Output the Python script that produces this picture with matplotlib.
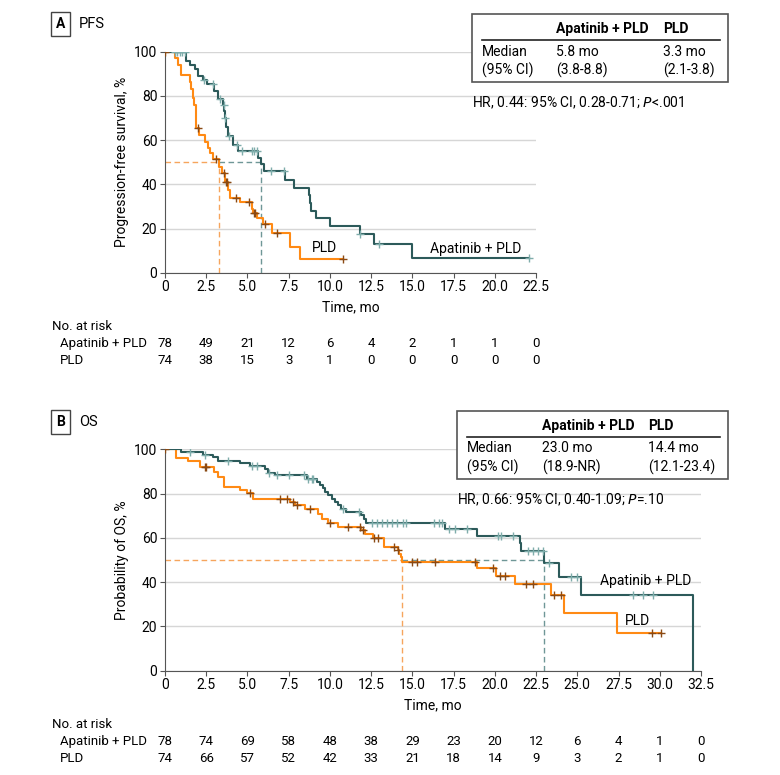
import numpy as np
import matplotlib
matplotlib.use("Agg")
import matplotlib.pyplot as plt
from matplotlib.patches import Rectangle
from matplotlib.lines import Line2D

plt.rcParams['font.family'] = ['Roboto', 'DejaVu Sans']
plt.rcParams['font.size'] = 9.5

TEAL = '#2c5a5a'
TEAL_CENS = '#7fadab'
ORANGE = '#ff8a14'
ORANGE_CENS = '#8a4a14'

# ---- Panel A: PFS ----
pfs_apa_t = [0, 1.3, 1.5, 1.8, 2.0, 2.3, 2.55, 3.0, 3.2, 3.5, 3.6, 3.65, 3.7, 3.8, 4.1, 4.4,
             5.65, 5.8, 6.0, 7.3, 7.85, 8.75, 8.8, 8.85, 9.15, 10.0, 11.8, 12.7, 15.0, 22.1]
pfs_apa_s = [100, 96, 94, 92, 89, 87, 85.5, 82, 78.5, 76, 73, 70, 66, 62, 58, 55,
             52, 49, 46, 42, 38.5, 35, 31.5, 28, 24.7, 21, 17.5, 13, 6.6, 6.6]
pfs_apa_cens = [0.6, 0.75, 0.9, 1.05, 1.2, 2.35, 2.9, 3.35, 3.55, 3.65, 3.9, 4.35, 4.65,
                5.25, 5.4, 5.55, 6.45, 7.2, 11.8, 13.0, 22.1]

pfs_pld_t = [0, 0.6, 0.8, 1.0, 1.5, 1.6, 1.7, 1.75, 1.85, 1.9, 2.05, 2.45, 2.6, 2.75, 2.9,
             3.3, 3.45, 3.65, 3.8, 3.95, 4.55, 5.25, 5.35, 5.55, 5.95, 6.5, 7.58, 8.19, 10.8]
pfs_pld_s = [100, 97, 94, 89.4, 86.4, 83, 79, 76, 71.4, 65.3, 62.3, 59.3, 56.5, 54, 51.4,
             48, 45, 41.2, 37.5, 33.7, 31.8, 29, 27.1, 24.6, 21.9, 18.1, 11.8, 6.1, 6.1]
pfs_pld_cens = [0, 2.0, 3.1, 3.55, 3.7, 3.75, 4.3, 5.1, 5.4, 5.45, 6.05, 6.8, 10.8]

pfs_median = {'apa': 5.8, 'pld': 3.3}
pfs_ticks = [0, 2.5, 5.0, 7.5, 10.0, 12.5, 15.0, 17.5, 20.0, 22.5]
pfs_risk_apa = [78, 49, 21, 12, 6, 4, 2, 1, 1, 0]
pfs_risk_pld = [74, 38, 15, 3, 1, 0, 0, 0, 0, 0]

# ---- Panel B: OS ----
os_apa_t = [0, 1.0, 2.3, 2.9, 3.2, 4.55, 5.15, 6.05, 6.25, 6.65, 8.6, 9.2, 9.4, 9.6, 9.7,
            9.9, 10.1, 10.3, 10.5, 10.7, 11.0, 11.9, 12.05, 12.2, 17.0, 18.9, 21.5, 21.6,
            23.0, 23.9, 25.2, 32.0]
os_apa_s = [100, 98.6, 97.4, 96.4, 94.8, 93.6, 92.6, 90.9, 89.5, 88.2, 86.8, 85.3, 83.8,
            82.3, 80.8, 79.2, 77.7, 76.2, 74.7, 73.2, 71.7, 70.2, 68.6, 66.6, 63.9, 60.8,
            57.5, 54.1, 48.5, 42.5, 34.0, 0]
os_apa_cens = [1.5, 2.45, 3.85, 5.25, 5.55, 6.3, 6.8, 7.5, 8.4, 8.7, 8.9, 9.0, 10.8, 11.75,
               12.55, 12.85, 13.15, 13.45, 13.75, 14.05, 14.45, 14.6, 16.3, 16.6, 16.8,
               17.2, 17.6, 18.3, 20.2, 20.4, 21.1, 22.0, 22.3, 22.6, 22.9, 23.3, 24.6,
               25.0, 28.4, 29.0, 29.6]

os_pld_t = [0, 0.65, 1.4, 2.1, 3.0, 3.2, 3.55, 4.55, 4.95, 5.35, 7.55, 7.9, 8.5, 9.3, 9.5,
            9.9, 10.5, 11.9, 12.1, 12.6, 13.3, 14.1, 14.2, 14.3, 14.4, 18.9, 20.1, 21.2,
            23.4, 24.2, 27.4, 30.1]
os_pld_s = [100, 96, 94.6, 92, 89.8, 87.5, 83, 81.5, 80.4, 77.7, 76.2, 74.7, 73.2, 70.9,
            68.6, 66.8, 65, 63.4, 61.6, 60, 55.9, 54.4, 52.9, 51.4, 49.2, 46.2, 42.8, 39,
            34.2, 25.9, 17.2, 17.2]
os_pld_cens = [0, 2.4, 2.5, 5.15, 7.0, 7.4, 7.75, 8.0, 8.8, 10.0, 11.1, 11.8, 12.0, 12.7,
               12.9, 13.9, 14.15, 15.0, 15.3, 16.4, 18.8, 19.9, 20.3, 20.6, 21.9, 22.3,
               23.6, 24.0, 29.5, 30.1]

os_median = {'apa': 23.0, 'pld': 14.4}
os_ticks = [0, 2.5, 5.0, 7.5, 10.0, 12.5, 15.0, 17.5, 20.0, 22.5, 25.0, 27.5, 30.0, 32.5]
os_risk_apa = [78, 74, 69, 58, 48, 38, 29, 23, 20, 12, 6, 4, 1, 0]
os_risk_pld = [74, 66, 57, 52, 42, 33, 21, 18, 14, 9, 3, 2, 1, 0]


def step_value(ts, ss, t):
    idx = np.searchsorted(ts, t, side='right') - 1
    return np.array(ss)[idx]


def km(ax, ts, ss, cens, color, ccolor):
    ax.step(ts, ss, where='post', color=color, lw=1.5, zorder=3)
    ax.plot(cens, step_value(ts, ss, cens), ls='none', marker='+', ms=6, mew=1.0,
            color=ccolor, zorder=4)


def setup_axes(ax, ticks, ylabel):
    ax.set_xlim(0, ticks[-1])
    ax.set_ylim(0, 100)
    ax.set_xticks(ticks)
    ax.set_xticklabels(['0'] + ['%.1f' % t for t in ticks[1:]])
    ax.set_yticks([0, 20, 40, 60, 80, 100])
    ax.yaxis.grid(True, color='#d6d6d6', lw=1)
    ax.set_axisbelow(True)
    for s in ['top', 'right']:
        ax.spines[s].set_visible(False)
    for s in ['left', 'bottom']:
        ax.spines[s].set_color('#555555')
    ax.tick_params(length=3.5, color='#555555', labelsize=10, pad=2)
    ax.set_xlabel('Time, mo', fontsize=10, labelpad=4)
    ax.set_ylabel(ylabel, fontsize=10, labelpad=4)


def medians(ax, med):
    ax.plot([0, med['pld']], [50, 50], ls=(0, (4, 2.5)), color='#f6a55d', lw=1, zorder=2)
    ax.plot([med['pld'], med['pld']], [0, 50], ls=(0, (4, 2.5)), color='#f6a55d', lw=1, zorder=2)
    ax.plot([med['pld'], med['apa']], [50, 50], ls=(0, (4, 2.5)), color='#6f9797', lw=1, zorder=2)
    ax.plot([med['apa'], med['apa']], [0, 50], ls=(0, (4, 2.5)), color='#6f9797', lw=1, zorder=2)


W, H = 780, 775
fig = plt.figure(figsize=(W / 100, H / 100), dpi=100)


def fx(px):
    return px / W


def fy(py):
    return 1 - py / H


def panel_label(letter, title, y):
    fig.text(fx(60.5), fy(y), letter, ha='center', va='center', fontsize=10, fontweight='bold',
             bbox=dict(boxstyle='square,pad=0.35', fc='white', ec='#444444', lw=1))
    fig.text(fx(79), fy(y), title, ha='left', va='center', fontsize=10.5)


def summary_box(x0, x1, y0, y1, c1, c2, rows, hr_parts, hr_y):
    fig.patches.append(Rectangle((fx(x0), fy(y1)), fx(x1 - x0), (y1 - y0) / H,
                                 transform=fig.transFigure, fc='white', ec='#555555', lw=1.2))
    left = x0 + 10
    hy = y0 + 15
    fig.text(fx(c1), fy(hy), 'Apatinib + PLD', fontsize=10, fontweight='bold', va='center')
    fig.text(fx(c2), fy(hy), 'PLD', fontsize=10, fontweight='bold', va='center')
    fig.add_artist(Line2D([fx(left), fx(x1 - 8)], [fy(y0 + 25.5), fy(y0 + 25.5)],
                          color='#222222', lw=1.2))
    for i, (a, b, c) in enumerate(rows):
        yy = y0 + 37.5 + i * 18.5
        fig.text(fx(left), fy(yy), a, fontsize=10, va='center')
        fig.text(fx(c1), fy(yy), b, fontsize=10, va='center')
        fig.text(fx(c2), fy(yy), c, fontsize=10, va='center')
    fig.text(fx(x0), fy(hr_y), hr_parts, fontsize=10, va='center')


def risk_table(ticks, r1, r2, ax, y0):
    fig.text(fx(51.5), fy(y0), 'No. at risk', fontsize=9.5, va='center')
    fig.text(fx(60), fy(y0 + 16.5), 'Apatinib + PLD', fontsize=9.5, va='center')
    fig.text(fx(60), fy(y0 + 33), 'PLD', fontsize=9.5, va='center')
    for t, a, b in zip(ticks, r1, r2):
        xp = ax.transData.transform((t, 0))[0] / fig.dpi / fig.get_size_inches()[0]
        fig.text(xp, fy(y0 + 16.5), str(a), fontsize=9.5, ha='center', va='center')
        fig.text(xp, fy(y0 + 33), str(b), fontsize=9.5, ha='center', va='center')


# Panel A
axA = fig.add_axes([fx(165), fy(272.7), fx(536 - 165), (272.7 - 51.7) / H])
setup_axes(axA, pfs_ticks, 'Progression-free survival, %')
medians(axA, pfs_median)
km(axA, pfs_pld_t, pfs_pld_s, pfs_pld_cens, ORANGE, ORANGE_CENS)
km(axA, pfs_apa_t, pfs_apa_s, pfs_apa_cens, TEAL, TEAL_CENS)
axA.text(8.9, 11.2, 'PLD', fontsize=10, va='center')
axA.text(16.1, 10.8, 'Apatinib + PLD', fontsize=10, va='center')
panel_label('A', 'PFS', 24)
summary_box(472, 728, 14, 82, 556, 663,
            [('Median', '5.8 mo', '3.3 mo'), ('(95% CI)', '(3.8-8.8)', '(2.1-3.8)')],
            'HR, 0.44: 95% CI, 0.28-0.71; $\\it{P}$<.001', 103)
risk_table(pfs_ticks, pfs_risk_apa, pfs_risk_pld, axA, 327)

# Panel B
axB = fig.add_axes([fx(165), fy(670.7), fx(701 - 165), (670.7 - 449.3) / H])
setup_axes(axB, os_ticks, 'Probability of OS, %')
medians(axB, os_median)
km(axB, os_pld_t, os_pld_s, os_pld_cens, ORANGE, ORANGE_CENS)
km(axB, os_apa_t, os_apa_s, os_apa_cens, TEAL, TEAL_CENS)
axB.text(26.4, 40.3, 'Apatinib + PLD', fontsize=10, va='center')
axB.text(27.9, 22.5, 'PLD', fontsize=10, va='center')
panel_label('B', 'OS', 421.7)
summary_box(457, 728, 411, 479, 541.7, 648,
            [('Median', '23.0 mo', '14.4 mo'), ('(95% CI)', '(18.9-NR)', '(12.1-23.4)')],
            'HR, 0.66: 95% CI, 0.40-1.09; $\\it{P}$=.10', 500)
risk_table(os_ticks, os_risk_apa, os_risk_pld, axB, 725)

fig.savefig('out.png', dpi=100)
